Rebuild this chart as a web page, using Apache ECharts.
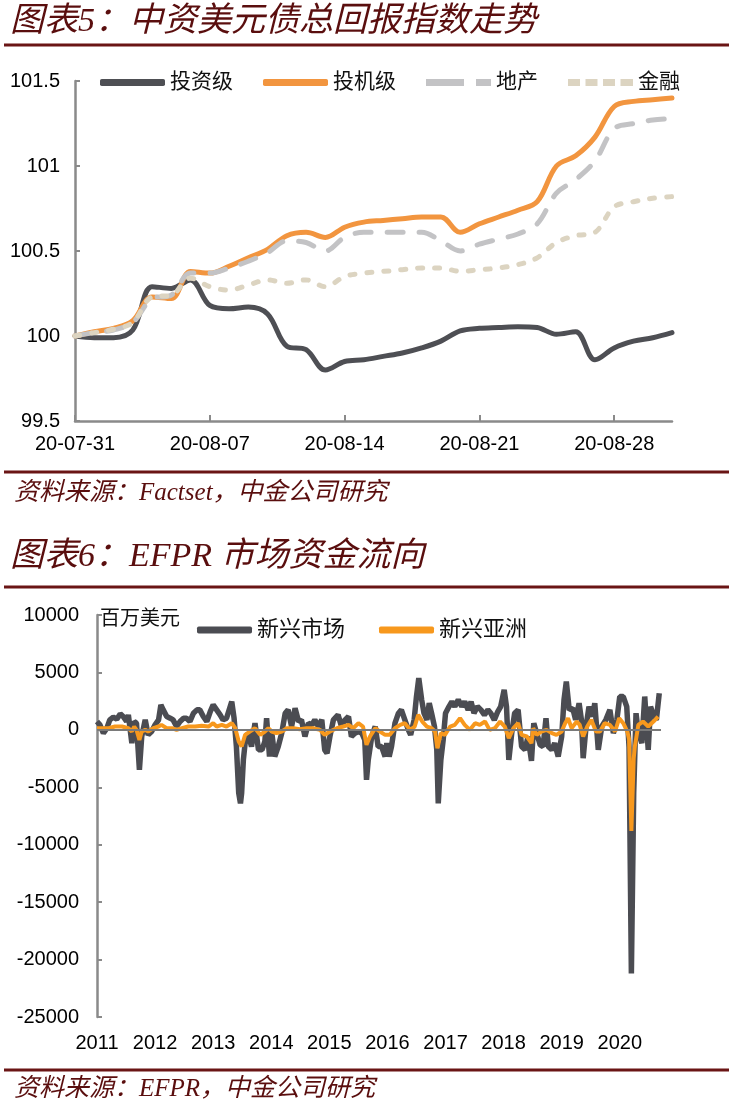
<!DOCTYPE html>
<html>
<head>
<meta charset="utf-8">
<script src="https://cdn.jsdelivr.net/npm/echarts@6/dist/echarts.min.js"></script>
<style>
  html, body { margin: 0; padding: 0; background: #fff; }
  #main { width: 737px; height: 1108px; }
</style>
</head>
<body>
<div id="main"></div>
<script>
// 图表5 数据：中资美元债总回报指数（日）
var days = ['20-07-31', '20-08-01', '20-08-02', '20-08-03', '20-08-04', '20-08-05', '20-08-06', '20-08-07',
    '20-08-08', '20-08-09', '20-08-10', '20-08-11', '20-08-12', '20-08-13', '20-08-14', '20-08-15',
    '20-08-16', '20-08-17', '20-08-18', '20-08-19', '20-08-20', '20-08-21', '20-08-22', '20-08-23',
    '20-08-24', '20-08-25', '20-08-26', '20-08-27', '20-08-28', '20-08-29', '20-08-30', '20-08-31'];
var invGrade = [100.00, 99.99, 99.99, 100.035, 100.29, 100.28, 100.33, 100.18, 100.16, 100.17, 100.13,
    99.94, 99.92, 99.80, 99.85, 99.86, 99.88, 99.90, 99.93, 99.97, 100.03, 100.045, 100.05, 100.055,
    100.05, 100.01, 100.025, 99.86, 99.93, 99.97, 99.99, 100.02];
var highYield = [100.00, 100.025, 100.045, 100.09, 100.23, 100.22, 100.38, 100.37, 100.41, 100.46, 100.51,
    100.59, 100.61, 100.58, 100.64, 100.67, 100.68, 100.69, 100.70, 100.70, 100.61, 100.66, 100.70, 100.74,
    100.79, 101.00, 101.06, 101.17, 101.35, 101.38, 101.39, 101.40];
var property = [100.00, 100.02, 100.035, 100.08, 100.22, 100.24, 100.37, 100.37, 100.40, 100.44, 100.49,
    100.56, 100.55, 100.50, 100.58, 100.61, 100.61, 100.61, 100.61, 100.56, 100.50, 100.54, 100.57, 100.60,
    100.66, 100.84, 100.92, 101.03, 101.22, 101.25, 101.27, 101.28];
var financial = [100.00, 100.02, 100.04, 100.08, 100.23, 100.24, 100.34, 100.29, 100.27, 100.30, 100.33,
    100.31, 100.33, 100.29, 100.35, 100.37, 100.38, 100.39, 100.40, 100.40, 100.38, 100.39, 100.40, 100.42,
    100.46, 100.55, 100.59, 100.61, 100.76, 100.79, 100.81, 100.82];

// 图表6 数据：EFPR 资金流向（百万美元），时间为年份小数
var emT = [2011.00, 2011.05, 2011.11, 2011.17, 2011.22, 2011.28, 2011.34, 2011.40, 2011.45, 2011.51,
    2011.54, 2011.60, 2011.64, 2011.68, 2011.73, 2011.77, 2011.83, 2011.88, 2011.94, 2012.00,
    2012.06, 2012.10, 2012.14, 2012.20, 2012.26, 2012.31, 2012.37, 2012.43, 2012.49, 2012.54,
    2012.60, 2012.66, 2012.72, 2012.77, 2012.83, 2012.89, 2012.95, 2013.00, 2013.06, 2013.12,
    2013.17, 2013.23, 2013.32, 2013.36, 2013.40, 2013.44, 2013.47, 2013.49, 2013.52, 2013.55,
    2013.60, 2013.66, 2013.72, 2013.78, 2013.84, 2013.89, 2013.92, 2013.97, 2014.01, 2014.06,
    2014.12, 2014.18, 2014.24, 2014.29, 2014.35, 2014.41, 2014.47, 2014.52, 2014.58, 2014.64,
    2014.70, 2014.75, 2014.81, 2014.87, 2014.92, 2014.96, 2015.01, 2015.07, 2015.15, 2015.21,
    2015.27, 2015.33, 2015.38, 2015.44, 2015.50, 2015.56, 2015.61, 2015.64, 2015.67, 2015.73,
    2015.79, 2015.84, 2015.90, 2015.96, 2015.99, 2016.03, 2016.07, 2016.13, 2016.19, 2016.24,
    2016.30, 2016.36, 2016.40, 2016.46, 2016.50, 2016.54, 2016.59, 2016.63, 2016.68, 2016.72,
    2016.76, 2016.81, 2016.85, 2016.875, 2016.92, 2016.96, 2017.00, 2017.06, 2017.11, 2017.16,
    2017.22, 2017.28, 2017.33, 2017.39, 2017.44, 2017.49, 2017.55, 2017.61, 2017.67, 2017.73,
    2017.78, 2017.84, 2017.90, 2017.95, 2018.01, 2018.05, 2018.09, 2018.14, 2018.19, 2018.25,
    2018.31, 2018.37, 2018.42, 2018.48, 2018.52, 2018.57, 2018.63, 2018.68, 2018.73, 2018.77,
    2018.83, 2018.88, 2018.94, 2019.00, 2019.04, 2019.08, 2019.13, 2019.19, 2019.24, 2019.30,
    2019.34, 2019.37, 2019.42, 2019.47, 2019.53, 2019.57, 2019.63, 2019.69, 2019.76, 2019.83,
    2019.89, 2019.95, 2020.00, 2020.06, 2020.12, 2020.16, 2020.20, 2020.24, 2020.28, 2020.32,
    2020.38, 2020.43, 2020.49, 2020.53, 2020.59, 2020.63, 2020.68];
var emFlow = [725, 435, -290, 145, 870, 1100, 925, 1390, 1160, 725,
    1300, -1160, 725, 580, -3480, -580, 870, -435, -145, 435,
    870, 2175, 1740, 1160, 1015, 870, 290, 725, 1015, 1015,
    725, 1450, 1740, 1740, 1160, 725, 1595, 2175, 1740, 1305,
    870, 1015, 2465, 1015, -1450, -5510, -6400, -5510, -2610, -1160,
    -290, -1450, 580, -1740, -1740, -1015, 1015, -2320, -290, -2320,
    -1450, -290, 1450, 1740, 290, 1885, 725, 870, -580, 580,
    435, 870, 290, 870, -1740, -2030, -580, 870, 1305, 290,
    870, 1160, -580, -290, -145, -290, -870, -4350, -2610, -580,
    290, -1450, -1450, -2320, -1160, -2320, -1450, 580, 1450, 1740,
    870, 0, -435, 870, 2900, 4500, 2610, 1450, 870, 2320,
    1450, 290, -1740, -6400, -2610, -870, 1450, 2030, 2465, 2030,
    2610, 2030, 2465, 1740, 2465, 1450, 2030, 1740, 1305, 1740,
    1450, 870, 1595, 2030, 3480, 2030, -2610, -290, 1450, 1740,
    -1450, -1740, -580, -2700, 580, -290, -1305, -1450, 1015, -1450,
    -1740, -1160, -2320, -580, 2610, 4205, 1740, 1885, 870, 2320,
    870, -2465, 290, 2030, 1160, 2320, -1740, 290, 870, 1740,
    -290, 870, 2900, 2900, 2030, -1500, -21200, -5510, 1450, -290,
    -1160, 2900, -1740, 2030, 1160, 870, 3190];
var asiaT = [2011.00, 2011.08, 2011.20, 2011.31, 2011.43, 2011.54, 2011.60, 2011.64, 2011.68, 2011.73,
    2011.77, 2011.83, 2011.88, 2011.97, 2012.06, 2012.11, 2012.20, 2012.29, 2012.37, 2012.46,
    2012.57, 2012.69, 2012.80, 2012.92, 2013.00, 2013.06, 2013.15, 2013.23, 2013.32, 2013.38,
    2013.44, 2013.49, 2013.55, 2013.63, 2013.72, 2013.81, 2013.89, 2013.95, 2014.01, 2014.09,
    2014.18, 2014.27, 2014.38, 2014.49, 2014.61, 2014.72, 2014.84, 2014.92, 2015.01, 2015.13,
    2015.24, 2015.33, 2015.41, 2015.50, 2015.58, 2015.64, 2015.70, 2015.79, 2015.87, 2015.96,
    2016.04, 2016.13, 2016.22, 2016.30, 2016.39, 2016.47, 2016.53, 2016.60, 2016.68, 2016.76,
    2016.82, 2016.86, 2016.92, 2016.99, 2017.08, 2017.16, 2017.25, 2017.33, 2017.42, 2017.51,
    2017.59, 2017.68, 2017.76, 2017.85, 2017.94, 2018.02, 2018.09, 2018.17, 2018.25, 2018.31,
    2018.40, 2018.48, 2018.51, 2018.57, 2018.65, 2018.74, 2018.83, 2018.91, 2019.00, 2019.06,
    2019.11, 2019.17, 2019.26, 2019.31, 2019.37, 2019.44, 2019.51, 2019.59, 2019.66, 2019.74,
    2019.83, 2019.92, 2019.99, 2020.06, 2020.13, 2020.16, 2020.20, 2020.24, 2020.26, 2020.32,
    2020.40, 2020.49, 2020.58, 2020.66];
var asiaFlow = [145, 145, 145, 290, 290, 145, -145, 290, 0, -870,
    -145, 0, -145, 145, 290, 435, 145, 145, 0, 145,
    290, 290, 350, 290, 580, 290, 435, 290, 580, 145,
    -1015, -1450, -435, -145, 145, -435, -145, 145, -145, -290,
    -145, 145, 145, 58, 145, 145, 0, -435, -145, 145,
    290, 435, 145, 580, 290, -1305, -580, 145, -145, -435,
    -435, 145, 435, 580, 0, 290, 1305, 725, 290, 145,
    -145, -1595, -290, -435, 290, 435, 1015, 435, 0, 580,
    435, 725, 0, 145, 725, 290, -725, 145, 580, -435,
    -580, -1160, 145, -435, -145, 0, -290, -435, -145, 580,
    1015, 145, 725, 435, -580, 290, 870, -145, -145, 580,
    435, -145, 1015, 580, -145, -800, -8800, -2500, -1450, 435,
    725, 290, 725, 1160];
var yearRange = [2011, 2020.71];

var myChart = echarts.init(document.getElementById('main'));

var RED = '#6A1515';
var TITLE_FONT = 'italic 34px "Liberation Serif", "Noto Sans CJK SC", serif';
var SRC_FONT = 'italic 25px "Liberation Serif", "Noto Sans CJK SC", serif';
var CJK_FAMILY = '"Liberation Serif", "Noto Sans CJK SC", serif';
var NUM_FAMILY = '"Liberation Sans", Arial, sans-serif';
var AXIS_GRAY = '#8A8A8A';

// 图例图标：长虚线 / 短虚线
var ICON_LONG_DASH = 'path://M0,0H38V7H0Z M50,0H65V7H50Z';
var ICON_SHORT_DASH = 'path://M0,0H12V7H0Z M17.5,0H29.5V7H17.5Z M35,0H47V7H35Z M52.5,0H65V7H52.5Z';

function zip(a, b) {
    var out = [];
    for (var i = 0; i < a.length; i++) out.push([a[i], b[i]]);
    return out;
}

function sepLine(y) {
    return {
        type: 'line',
        shape: { x1: 4, y1: y, x2: 729, y2: y },
        style: { stroke: RED, lineWidth: 3 }
    };
}

function label(text, x, y, font, color) {
    return {
        type: 'text',
        style: { text: text, x: x, y: y, font: font, fill: color, verticalAlign: 'middle' }
    };
}

var option = {
    animation: false,
    backgroundColor: '#fff',
    graphic: [
        label('图表5：中资美元债总回报指数走势', 10, 22, TITLE_FONT, '#5A0E0E'),
        sepLine(45),
        sepLine(472),
        label('资料来源：Factset，中金公司研究', 14, 493, SRC_FONT, '#5A0E0E'),
        label('图表6：EFPR 市场资金流向', 10, 557, TITLE_FONT, '#5A0E0E'),
        sepLine(587),
        label('百万美元', 100, 620, '20px ' + CJK_FAMILY, '#111'),
        sepLine(1070),
        label('资料来源：EFPR，中金公司研究', 14, 1089, SRC_FONT, '#5A0E0E')
    ],
    legend: [{
        left: 100,
        top: 72,
        padding: 0,
        itemWidth: 65,
        itemHeight: 7,
        itemGap: 30,
        data: [
            { name: '投资级', icon: 'roundRect' },
            { name: '投机级', icon: 'roundRect' },
            { name: '地产', icon: ICON_LONG_DASH },
            { name: '金融', icon: ICON_SHORT_DASH }
        ],
        textStyle: { fontSize: 21, fontFamily: CJK_FAMILY, color: '#111' }
    }, {
        left: 197,
        top: 619,
        padding: 0,
        itemWidth: 55,
        itemHeight: 7,
        itemGap: 34,
        data: [
            { name: '新兴市场', icon: 'roundRect' },
            { name: '新兴亚洲', icon: 'roundRect' }
        ],
        textStyle: { fontSize: 22, fontFamily: CJK_FAMILY, color: '#111' }
    }],
    grid: [
        { left: 75, top: 81, width: 597, height: 340 },
        { left: 97, top: 615, width: 564, height: 402 }
    ],
    xAxis: [{
        gridIndex: 0,
        type: 'category',
        data: days,
        boundaryGap: false,
        axisLine: { lineStyle: { color: AXIS_GRAY, width: 2.5 } },
        axisTick: { inside: true, length: 6, interval: 6, lineStyle: { color: AXIS_GRAY, width: 2 } },
        axisLabel: { interval: 6, margin: 13, fontSize: 20, fontFamily: NUM_FAMILY, color: '#000' },
        splitLine: { show: false }
    }, {
        gridIndex: 1,
        type: 'value',
        min: yearRange[0],
        max: yearRange[1],
        interval: 1,
        axisLine: { show: false },
        axisTick: { show: false },
        splitLine: { show: false },
        axisLabel: {
            margin: 16, fontSize: 20, fontFamily: NUM_FAMILY, color: '#000',
            showMaxLabel: false,
            formatter: function (v) {
                return Math.abs(v - Math.round(v)) < 1e-6 ? String(Math.round(v)) : '';
            }
        }
    }],
    yAxis: [{
        gridIndex: 0,
        type: 'value',
        min: 99.5,
        max: 101.5,
        interval: 0.5,
        axisLine: { show: true, lineStyle: { color: AXIS_GRAY, width: 2.5 } },
        axisTick: { show: true, inside: true, length: 5, lineStyle: { color: AXIS_GRAY, width: 2 } },
        axisLabel: { margin: 15, fontSize: 20, fontFamily: NUM_FAMILY, color: '#000' },
        splitLine: { show: false }
    }, {
        gridIndex: 1,
        type: 'value',
        min: -25000,
        max: 10000,
        interval: 5000,
        axisLine: { show: true, lineStyle: { color: AXIS_GRAY, width: 2.5 } },
        axisTick: { show: true, inside: true, length: 5, lineStyle: { color: AXIS_GRAY, width: 2 } },
        axisLabel: {
            margin: 18, fontSize: 20, fontFamily: NUM_FAMILY, color: '#000',
            formatter: function (v) { return String(v); }
        },
        splitLine: { show: false }
    }],
    series: [{
        name: '投资级',
        type: 'line',
        data: invGrade,
        symbol: 'none',
        smooth: 0.35,
        color: '#4E4F54',
        lineStyle: { color: '#4E4F54', width: 5, cap: 'round' }
    }, {
        name: '投机级',
        type: 'line',
        data: highYield,
        symbol: 'none',
        smooth: 0.35,
        color: '#F2953F',
        lineStyle: { color: '#F2953F', width: 5, cap: 'round' }
    }, {
        name: '地产',
        type: 'line',
        data: property,
        symbol: 'none',
        smooth: 0.35,
        color: '#C3C3C5',
        lineStyle: { color: '#C3C3C5', width: 5, type: [16, 16], cap: 'round' }
    }, {
        name: '金融',
        type: 'line',
        data: financial,
        symbol: 'none',
        smooth: 0.35,
        color: '#DCD4C1',
        lineStyle: { color: '#DCD4C1', width: 5, type: [5, 12], cap: 'round' }
    }, {
        name: '新兴市场',
        type: 'line',
        xAxisIndex: 1,
        yAxisIndex: 1,
        data: zip(emT, emFlow),
        symbol: 'none',
        color: '#4B4C52',
        lineStyle: { color: '#4B4C52', width: 5.5 },
        markLine: {
            silent: true,
            symbol: 'none',
            label: { show: false },
            lineStyle: { color: '#7A7A7A', width: 2, type: 'solid' },
            data: [{ yAxis: 0 }]
        }
    }, {
        name: '新兴亚洲',
        type: 'line',
        xAxisIndex: 1,
        yAxisIndex: 1,
        data: zip(asiaT, asiaFlow),
        symbol: 'none',
        color: '#F7981D',
        lineStyle: { color: '#F7981D', width: 4 }
    }]
};

myChart.setOption(option);
</script>
</body>
</html>
